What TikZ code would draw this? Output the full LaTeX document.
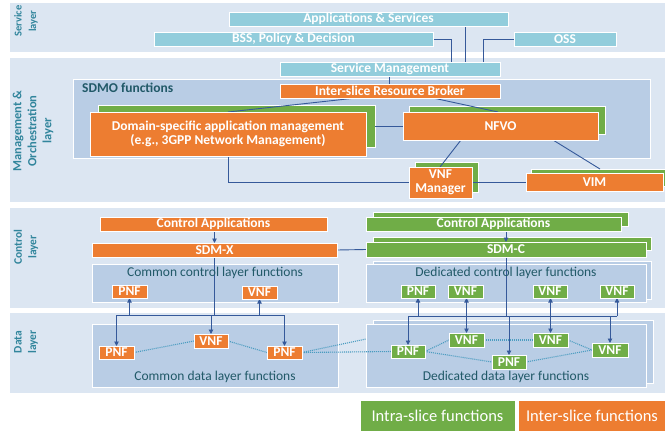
\documentclass[tikz,border=0pt]{standalone}
\usepackage{fontspec}
\setmainfont{Carlito}
\usetikzlibrary{arrows.meta,calc}
\pgfdeclarelayer{back}
\pgfdeclarelayer{mid}
\pgfsetlayers{back,mid,main}
\definecolor{bandc}{HTML}{DCE6F2}
\definecolor{innerc}{HTML}{B9CDE5}
\definecolor{lblue}{HTML}{92CDDC}
\definecolor{orng}{HTML}{ED7D31}
\definecolor{grn}{HTML}{70AD47}
\definecolor{labc}{HTML}{31859C}
\definecolor{itext}{HTML}{215968}
\definecolor{linec}{HTML}{35599A}
\definecolor{dotc}{HTML}{4A9CC0}
\newcommand\barfnt{\fontsize{13.5}{14}\selectfont\bfseries}
\newcommand\ilabfnt{\fontsize{13.5}{15}\selectfont}
\newcommand\layfnt{\fontsize{12}{14.5}\selectfont\bfseries}
\newcommand\legfnt{\fontsize{16.5}{18}\selectfont}
\newcommand\mkbox[7]{\node[#2,minimum width={#5-#3},minimum height={#6-#4}] (#1) at ({(#3+#5)/2},{(#4+#6)/2}) {#7};}
\tikzset{
  base/.style={inner sep=0pt, outer sep=0pt, draw=white, line width=0.8pt},
  band/.style={base, draw=none, fill=bandc},
  inner/.style={base, fill=innerc},
  lb/.style={base, fill=lblue, text=white, font=\barfnt},
  ob/.style={base, fill=orng, text=white, font=\barfnt, align=center},
  gb/.style={base, fill=grn, text=white, font=\barfnt},
  sh/.style={base, fill=grn},
  leg/.style={base, text=white, font=\legfnt},
  conn/.style={draw=linec, line width=0.9pt},
  arr/.style={conn, -{Triangle[length=4.5pt,width=4.5pt]}},
  darr/.style={conn, {Triangle[length=4.5pt,width=4.5pt]}-{Triangle[length=4.5pt,width=4.5pt]}},
  dots/.style={draw=dotc, line width=1.1pt, dash pattern=on 1pt off 1pt},
  layerlab/.style={rotate=90, align=center, text=labc, font=\layfnt, inner sep=0pt},
  ilab/.style={text=itext, font=\ilabfnt, inner sep=0pt},
}
\begin{document}
\begin{tikzpicture}[x=1pt,y=-1pt]
\clip (0,0) rectangle (665,432);
\begin{pgfonlayer}{back}
\fill[white] (0,0) rectangle (665,432);
\mkbox{bandS}{band}{10}{3}{666}{52}{}
\mkbox{bandM}{band}{10}{58}{666}{202}{}
\mkbox{bandC}{band}{10}{208}{666}{308}{}
\mkbox{bandD}{band}{10}{313}{666}{393}{}
\mkbox{sdmo}{inner}{73}{79}{650}{158}{}
\mkbox{cctrl}{inner}{92}{264}{338}{302}{}
\mkbox{dctrlsh}{inner}{373}{261}{651}{299}{}
\mkbox{dctrl}{inner}{366}{264}{646}{302}{}
\mkbox{cdata}{inner}{92}{324}{338}{387}{}
\mkbox{ddatash}{inner}{373}{320}{653}{383}{}
\mkbox{ddata}{inner}{366}{324}{646}{387}{}
\mkbox{domsh}{sh}{98}{105}{375}{147}{}
\mkbox{nfvosh}{sh}{409}{106}{605}{134}{}
\mkbox{vnfmsh}{sh}{415}{162}{478}{192}{}
\mkbox{vimsh}{sh}{531}{169}{672}{186}{}
\mkbox{cagsh}{sh}{373}{212}{628}{226}{}
\mkbox{sdmcsh}{sh}{373}{237}{651}{250}{}
\end{pgfonlayer}
% layer labels
\node[layerlab, font=\fontsize{10.5}{14.5}\selectfont\bfseries] (ls) at (26,21) {Service\\layer};
\node[layerlab, font=\fontsize{12.5}{15}\selectfont\bfseries] (lm) at (33,131) {Management \&\\Orchestration\\layer};
\node[layerlab, font=\fontsize{11.5}{14.5}\selectfont\bfseries] (lc) at (26,247) {Control\\layer};
\node[layerlab, font=\fontsize{11.5}{14.5}\selectfont\bfseries] (ld) at (26,342) {Data\\layer};
% service & management
\mkbox{apps}{lb}{229}{12}{508}{26}{Applications \& Services}
\mkbox{bss}{lb}{154}{32}{433}{46}{BSS, Policy \& Decision}
\mkbox{oss}{lb}{514}{32}{616}{46}{OSS}
\mkbox{sm}{lb}{280}{62}{500}{76}{Service Management}
\node[ilab, font=\ilabfnt\bfseries, anchor=west] (sdmolab) at (82,88) {SDMO functions};
\mkbox{isrb}{ob}{280}{84}{500}{98}{Inter-slice Resource Broker}
\mkbox{dom}{ob}{90}{112}{366}{156}{Domain-specific application management\\(e.g., 3GPP Network Management)}
\mkbox{nfvo}{ob}{403}{112}{598}{140}{NFVO}
\mkbox{vnfm}{ob}{409}{167}{472}{198}{VNF\\Manager}
\mkbox{vim}{ob}{526}{173}{663}{191}{VIM}
% control
\mkbox{cax}{ob}{100}{217}{327}{231}{Control Applications}
\mkbox{sdmx}{ob}{92}{243}{337}{257}{SDM-X}
\mkbox{cag}{gb}{366}{217}{621}{231}{Control Applications}
\mkbox{sdmc}{gb}{366}{242}{646}{257}{SDM-C}
\node[ilab] (cctrllab) at ($(cctrl.north)+(0,9)$) {Common control layer functions};
\node[ilab] (dctrllab) at ($(dctrl.north)+(0,9)$) {Dedicated control layer functions};
\mkbox{pnfc1}{ob}{112}{285}{147}{298}{PNF}
\mkbox{vnfc1}{ob}{242}{286}{277}{299}{VNF}
\mkbox{pnfd1}{gb}{401}{285}{435}{298}{PNF}
\mkbox{vnfd1}{gb}{448}{285}{483}{298}{VNF}
\mkbox{vnfd2}{gb}{533}{285}{567}{298}{VNF}
\mkbox{vnfd3}{gb}{600}{285}{634}{298}{VNF}
% data
\node[ilab] (cdatalab) at ($(cdata.south)+(0,-10)$) {Common data layer functions};
\node[ilab] (ddatalab) at ($(ddata.south)+(0,-10)$) {Dedicated data layer functions};
\mkbox{pnfc2}{ob}{99}{346}{134}{359}{PNF}
\mkbox{vnfc2}{ob}{194}{334}{228}{348}{VNF}
\mkbox{pnfc3}{ob}{267}{346}{302}{359}{PNF}
\mkbox{pnfd2}{gb}{391}{345}{425}{358}{PNF}
\mkbox{vnfd4}{gb}{449}{333}{484}{347}{VNF}
\mkbox{pnfd3}{gb}{492}{355}{526}{369}{PNF}
\mkbox{vnfd5}{gb}{533}{333}{568}{347}{VNF}
\mkbox{vnfd6}{gb}{592}{343}{628}{357}{VNF}
% legend
\mkbox{intra}{leg, fill=grn}{360}{400}{515}{431}{Intra-slice functions}
\mkbox{inter}{leg, fill=orng}{518}{400}{666}{431}{Inter-slice functions}
\begin{pgfonlayer}{mid}
\draw[conn] (bss.east) -| ($(sm.north west)+(171,0)$);
\draw[conn] ($(apps.south west)+(236,0)$) -- ($(sm.north west)+(185,0)$);
\draw[conn] (oss.west) -| ($(sm.north west)+(203,0)$);
\draw[conn] ($(sm.south west)+(109,0)$) -- ($(isrb.north west)+(109,0)$);
\draw[conn] ($(isrb.south west)+(76,0)$) -- ($(dom.north west)+(138,0)$);
\draw[conn] ($(isrb.south west)+(153,0)$) -- ($(nfvo.north west)+(95,0)$);
\draw[conn] ($(domsh.north east)+(0,21)$) -- ($(nfvo.north west)+(0,14)$);
\draw[conn] ($(dom.south west)+(138,0)$) |- (vnfm.west);
\draw[conn] ($(nfvo.south west)+(58,0)$) -- ($(vnfm.north west)+(31,0)$);
\draw[conn] ($(nfvo.south west)+(150,0)$) -- ($(vimsh.north west)+(69,0)$);
\draw[conn] (vnfm.east) -- (vim.west |- vnfm.east);
% control common
\draw[arr] (sdmx.north |- cax.south) -- (sdmx.north);
\draw[conn] (sdmx.east) -- (sdmc.west);
\coordinate (jc) at (215,315);
\draw[conn] (sdmx.south) -- (sdmx.south |- jc);
\draw[conn] (pnfc2.north |- jc) -- (pnfc3.north |- jc);
\draw[arr] (pnfc2.north |- jc) -- (pnfc2.north);
\draw[arr] (vnfc2.north |- jc) -- (vnfc2.north);
\draw[arr] (pnfc3.north |- jc) -- (pnfc3.north);
\draw[arr] (pnfc1.south |- jc) -- (pnfc1.south);
\draw[arr] (vnfc1.south |- jc) -- (vnfc1.south);
% control dedicated
\draw[arr] (sdmc.north |- cag.south) -- (sdmc.north);
\coordinate (jd) at (506,316);
\draw[conn] (sdmc.south) -- (sdmc.south |- jd);
\draw[conn] (pnfd2.north |- jd) -- (vnfd3.south |- jd);
\draw[arr] (pnfd2.north |- jd) -- (pnfd2.north);
\draw[arr] (pnfd3.north |- jd) -- (pnfd3.north);
\draw[arr] (vnfd6.north |- jd) -- (vnfd6.north);
\draw[arr] (pnfd1.south |- jd) -- (pnfd1.south);
\draw[arr] (vnfd3.south |- jd) -- (vnfd3.south);
\draw[darr] (vnfd4.north) -- (vnfd4.north |- vnfd1.south);
\draw[darr] (vnfd5.north) -- (vnfd5.north |- vnfd2.south);
% dotted data links
\draw[dots] (pnfc2.east) -- (vnfc2.west);
\draw[dots] (vnfc2.east) -- (pnfc3.west);
\draw[dots] (pnfc3.east) -- (pnfd2.west);
\draw[dots] (pnfc3.east) -- ($(ddata.north west)+(0,15)$);
\draw[dots] (pnfd2.east) -- (vnfd4.west);
\draw[dots] (pnfd2.east) -- (pnfd3.west);
\draw[dots] (vnfd4.east) -- (vnfd5.west);
\draw[dots] (vnfd5.east) -- (vnfd6.west);
\draw[dots] (pnfd3.east) -- (vnfd6.west);
\end{pgfonlayer}
\end{tikzpicture}
\end{document}
